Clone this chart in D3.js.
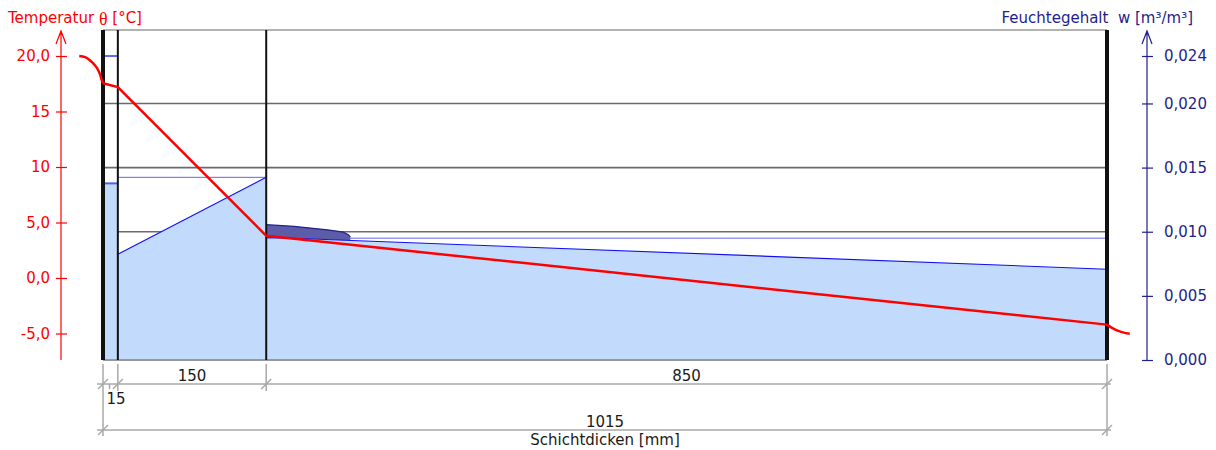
<!DOCTYPE html>
<html><head><meta charset="utf-8">
<script src="https://cdn.jsdelivr.net/npm/d3@7"></script>
<style>
html,body{margin:0;padding:0;background:#fff;}
svg{display:block;font-family:"DejaVu Sans",Verdana,sans-serif;}
</style></head>
<body><svg id="c" width="1216" height="450"></svg>
<script>
// ---------- data ----------
const layerThickness = [15, 150, 850];            // mm
const layerLabels = ["15", "150", "850"];
const totalLabel = "1015";
// temperature profile (x in mm, T in °C)
const tempInsideX = [-24, -18, -13, -9, -6, -3, -1.3, 0];
const tempInsideT = [20.0, 19.9, 19.6, 19.25, 18.9, 18.35, 17.85, 17.55];
const tempWallX = [0, 15, 165, 1015];
const tempWallT = [17.55, 17.2, 3.8, -4.2];
const tempOutsideX = [1015, 1020, 1025, 1031, 1038];
const tempOutsideT = [-4.2, -4.5, -4.72, -4.9, -5.02];
// moisture content per layer (start/end, m³/m³)
const moistStart = [0.01377, 0.00825, 0.00957];
const moistEnd = [0.01377, 0.01424, 0.00708];
const moistRef = [0.0237, 0.01424, 0.0095];
// condensation / excess zone in layer 3
const excessX = [165, 193, 227, 243, 248, 250];
const excessW = [0.01055, 0.01042, 0.01015, 0.00997, 0.00977, 0.0096];
// axes
const tempTicks = [-5, 0, 5, 10, 15, 20];
const tempTickLabels = ["-5,0", "0,0", "5,0", "10", "15", "20,0"];
const moistTicks = [0, 0.005, 0.010, 0.015, 0.020, 0.0237];
const moistTickLabels = ["0,000", "0,005", "0,010", "0,015", "0,020", "0,024"];
const gridTicks = [0.005, 0.010, 0.015, 0.020];

// ---------- scales ----------
const svg = d3.select("#c");
const total = d3.sum(layerThickness);
const x = d3.scaleLinear().domain([0, total]).range([103, 1107]);
const yT = d3.scaleLinear().domain([-5, 20]).range([333.5, 56]);
const yW = d3.scaleLinear().domain([0, 0.0237]).range([360, 56]);
const bounds = [0];
layerThickness.forEach(t => bounds.push(bounds[bounds.length - 1] + t));

const RED = "#ff0000", NAVY = "#1e1e8c";
const FS = "15px";

// gridlines
svg.append("g").selectAll("line").data(gridTicks).join("line")
  .attr("x1", x(0)).attr("x2", x(total))
  .attr("y1", d => yW(d)).attr("y2", d => yW(d))
  .attr("stroke", "#6a6a6a").attr("stroke-width", 1.6);
// frame top
svg.append("line").attr("x1", x(0)).attr("x2", x(total)).attr("y1", 30).attr("y2", 30)
  .attr("stroke", "#9a9a9a").attr("stroke-width", 1.5);

// moisture fills
const mg = svg.append("g");
layerThickness.forEach((t, i) => {
  const pts = [[bounds[i], moistStart[i]], [bounds[i + 1], moistEnd[i]]];
  const area = d3.area().x(d => x(d[0])).y0(yW(0)).y1(d => yW(d[1]));
  mg.append("path").attr("d", area(pts)).attr("fill", "#c2dbfc");
});
// reference lines
layerThickness.forEach((t, i) => {
  mg.append("line").attr("x1", x(bounds[i])).attr("x2", x(bounds[i + 1]))
    .attr("y1", yW(moistRef[i])).attr("y2", yW(moistRef[i]))
    .attr("stroke", i === 0 ? "#5a6ef0" : "#3a3af0").attr("stroke-width", i === 0 ? 2 : 0.8);
});
// excess zone
const m3 = d3.scaleLinear().domain([bounds[2], bounds[3]]).range([moistStart[2], moistEnd[2]]);
const excessArea = d3.area().x(d => x(d[0])).y0(d => yW(m3(d[0]))).y1(d => yW(d[1]));
const excessPts = excessX.map((v, i) => [v, excessW[i]]);
mg.append("path").attr("d", excessArea(excessPts)).attr("fill", "#5c5ca8");
mg.append("path").attr("d", d3.line().x(d => x(d[0])).y(d => yW(d[1]))(excessPts))
  .attr("fill", "none").attr("stroke", "#22228a").attr("stroke-width", 1.2);
// moisture lines
layerThickness.forEach((t, i) => {
  mg.append("line").attr("x1", x(bounds[i])).attr("x2", x(bounds[i + 1]))
    .attr("y1", yW(moistStart[i])).attr("y2", yW(moistEnd[i]))
    .attr("stroke", i === 0 ? "#4a64f0" : "#1010f0").attr("stroke-width", i === 0 ? 2 : 1.1);
});

svg.append("line").attr("x1", x(0)).attr("x2", x(total)).attr("y1", 360).attr("y2", 360)
  .attr("stroke", "#999").attr("stroke-width", 2);

// layer boundaries
svg.append("g").selectAll("line").data(bounds).join("line")
  .attr("x1", d => x(d)).attr("x2", d => x(d)).attr("y1", 30).attr("y2", 360)
  .attr("stroke", "#111")
  .attr("stroke-width", (d, i) => (i === 0 || i === bounds.length - 1) ? 4 : 2);

// temperature
svg.append("path").attr("d", d3.line().x(d => x(d[0])).y(d => yT(d[1])).curve(d3.curveMonotoneX)(tempInsideX.map((v, i) => [v, tempInsideT[i]])))
  .attr("fill", "none").attr("stroke", RED).attr("stroke-width", 2.5);
svg.append("path").attr("d", d3.line().x(d => x(d[0])).y(d => yT(d[1]))(tempWallX.map((v, i) => [v, tempWallT[i]])))
  .attr("fill", "none").attr("stroke", RED).attr("stroke-width", 2.5);
svg.append("path").attr("d", d3.line().x(d => x(d[0])).y(d => yT(d[1])).curve(d3.curveMonotoneX)(tempOutsideX.map((v, i) => [v, tempOutsideT[i]])))
  .attr("fill", "none").attr("stroke", RED).attr("stroke-width", 2.5);

// left axis
const la = svg.append("g").attr("transform", "translate(61,0)")
  .call(d3.axisLeft(yT).tickValues(tempTicks).tickFormat((d, i) => tempTickLabels[i]).tickSize(6));
la.select(".domain").remove();
la.selectAll(".tick line").attr("x1", -5).attr("x2", 6).attr("stroke", RED).attr("stroke-width", 1.2);
la.selectAll(".tick text").attr("x", -11).attr("fill", RED).style("font-size", FS)
  .style("font-family", "DejaVu Sans");
svg.append("path").attr("d", "M61,360V31M56,44L61,31L66,44").attr("fill", "none")
  .attr("stroke", RED).attr("stroke-width", 1.2);

// right axis
const ra = svg.append("g").attr("transform", "translate(1147,0)")
  .call(d3.axisRight(yW).tickValues(moistTicks).tickFormat((d, i) => moistTickLabels[i]).tickSize(6));
ra.select(".domain").remove();
ra.selectAll(".tick line").attr("x1", -5).attr("x2", 6).attr("stroke", NAVY).attr("stroke-width", 1.2);
ra.selectAll(".tick text").attr("x", 17).attr("fill", NAVY).style("font-size", FS)
  .style("font-family", "DejaVu Sans");
svg.append("path").attr("d", "M1147,360V31M1142,44L1147,31L1152,44").attr("fill", "none")
  .attr("stroke", NAVY).attr("stroke-width", 1.2);

// titles
const t1 = svg.append("text").attr("x", 8).attr("y", 23).attr("fill", RED).style("font-size", FS);
t1.append("tspan").text("Temperatur\u00a0");
t1.append("tspan").style("font-family", "Liberation Serif").style("font-size", "18px").attr("dy", 2).text("θ");
t1.append("tspan").attr("dy", -2).text("\u00a0[°C]");
svg.append("text").attr("x", 1193).attr("y", 23).attr("text-anchor", "end").attr("fill", NAVY)
  .style("font-size", FS).text("Feuchtegehalt\u00a0\u00a0w [m³/m³]");

// dimension lines
const dim = svg.append("g").attr("stroke", "#a8a8a8").attr("stroke-width", 1.5);
bounds.forEach((b, i) => {
  const outer = (i === 0 || i === bounds.length - 1);
  dim.append("line").attr("x1", x(b)).attr("x2", x(b)).attr("y1", 364).attr("y2", outer ? 436 : 391);
  dim.append("line").attr("x1", x(b) - 5).attr("x2", x(b) + 5).attr("y1", 389).attr("y2", 379);
  if (outer) dim.append("line").attr("x1", x(b) - 5).attr("x2", x(b) + 5).attr("y1", 435).attr("y2", 425);
});
dim.append("line").attr("x1", 97).attr("x2", 1111).attr("y1", 384).attr("y2", 384);
dim.append("line").attr("x1", 97).attr("x2", 1111).attr("y1", 430).attr("y2", 430);
dim.append("line").attr("x1", 109.5).attr("x2", 109.5).attr("y1", 384).attr("y2", 389);

const dt = svg.append("g").attr("fill", "#1a1a1a").style("font-size", FS).attr("text-anchor", "middle");
layerLabels.forEach((l, i) => {
  if (i === 0) {
    dt.append("text").attr("x", 116).attr("y", 404).text(l);
  } else {
    dt.append("text").attr("x", x((bounds[i] + bounds[i + 1]) / 2)).attr("y", 381).text(l);
  }
});
dt.append("text").attr("x", x(total / 2)).attr("y", 427).text(totalLabel);
dt.append("text").attr("x", x(total / 2)).attr("y", 445).text("Schichtdicken [mm]");
</script></body></html>
